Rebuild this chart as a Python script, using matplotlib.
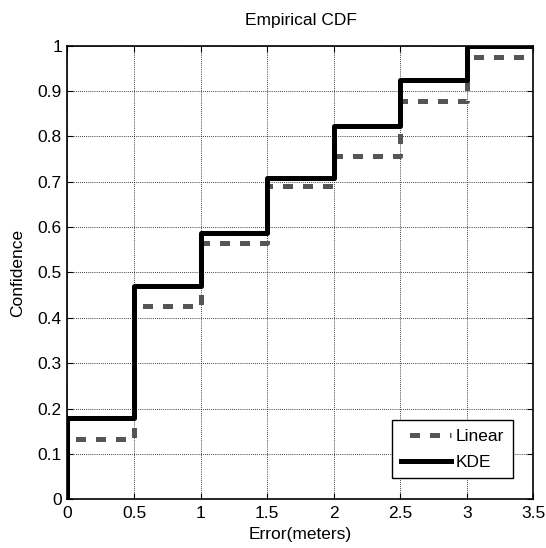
import matplotlib
matplotlib.use('Agg')
import numpy as np
import matplotlib.pyplot as plt

# step edges (meters) and CDF level on each interval
edges = [0.0, 0.5, 1.0, 1.5, 2.0, 2.5, 3.0, 3.5]
linear_cdf = [0.132, 0.425, 0.566, 0.691, 0.757, 0.879, 0.976]
kde_cdf = [0.178, 0.471, 0.587, 0.708, 0.822, 0.925, 1.0]

x_ticks = [0, 0.5, 1, 1.5, 2, 2.5, 3, 3.5]
x_labels = ['0', '0.5', '1', '1.5', '2', '2.5', '3', '3.5']
y_ticks = [0, 0.1, 0.2, 0.3, 0.4, 0.5, 0.6, 0.7, 0.8, 0.9, 1.0]
y_labels = ['0', '0.1', '0.2', '0.3', '0.4', '0.5', '0.6', '0.7', '0.8', '0.9', '1']

plt.rcParams['font.family'] = ['Liberation Sans Narrow', 'Liberation Sans', 'DejaVu Sans']


def stair_xy(levels):
    # start at (0, 0) so the first jump is drawn as a vertical
    xs = np.r_[edges[0], edges]
    ys = np.r_[0.0, levels, levels[-1]]
    return xs, ys


fig = plt.figure(figsize=(5.46, 5.48), dpi=100)
ax = fig.add_axes([0.1236, 0.0890, 0.8535, 0.8277])

xs, ys = stair_xy(linear_cdf)
ax.step(xs, ys, where='post', color='#555555', lw=3.6,
        ls=(2.3, (2, 2)), label='Linear')
xs, ys = stair_xy(kde_cdf)
ax.step(xs, ys, where='post', color='black', lw=3.6, label='KDE')

ax.set_xlim(0, 3.5)
ax.set_ylim(0, 1)
ax.set_xticks(x_ticks)
ax.set_xticklabels(x_labels)
ax.set_yticks(y_ticks)
ax.set_yticklabels(y_labels)
ax.tick_params(direction='in', top=True, right=True, length=4, width=0.8,
               labelsize=12.5)
ax.tick_params(axis='x', pad=5)
ax.tick_params(axis='y', pad=4)
ax.grid(True, color='black', lw=0.6, ls=(0, (1, 1.5)))
for sp in ax.spines.values():
    sp.set_linewidth(1.2)

ax.set_xlabel('Error(meters)', fontsize=12.5, labelpad=4)
ax.set_ylabel('Confidence', fontsize=12.5, labelpad=9)
ax.set_title('Empirical CDF', fontsize=12.5, pad=15)

leg = ax.legend(loc='lower right', fontsize=12.5, fancybox=False,
                edgecolor='black', framealpha=1, handlelength=2.9,
                borderaxespad=1.2, labelspacing=0.6, handletextpad=0.25,
                borderpad=0.5)
leg.get_frame().set_linewidth(1.0)

fig.savefig('out.png', dpi=100)
